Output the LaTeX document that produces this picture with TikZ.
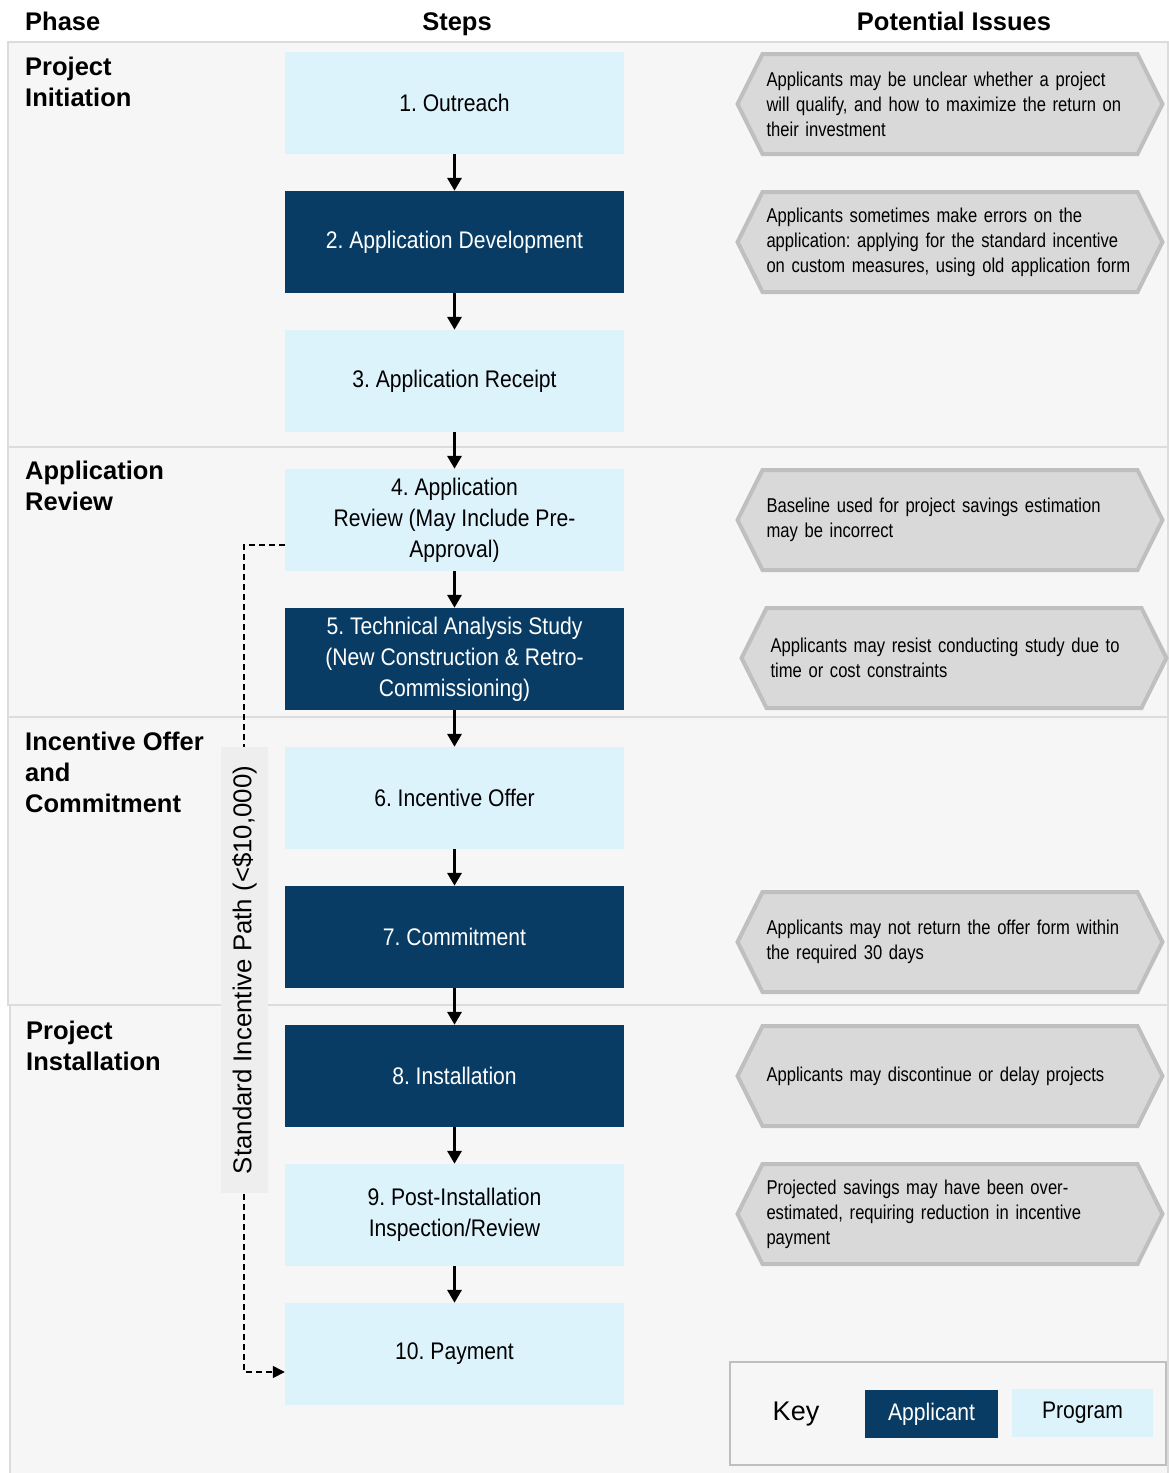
\documentclass[tikz,border=0pt]{standalone}
\usepackage{fontspec}
\setmainfont{Liberation Sans}
\newfontfamily\narrowfont{Liberation Sans}[FakeStretch=0.88]
\newfontfamily\issuefont{Liberation Sans}[FakeStretch=0.83]
\usetikzlibrary{arrows.meta, shapes.symbols}
\frenchspacing

\definecolor{progblue}{RGB}{221,243,252}
\definecolor{appblue}{RGB}{8,60,100}
\definecolor{bandfill}{RGB}{246,246,246}
\definecolor{bandline}{RGB}{220,220,220}
\definecolor{issuefill}{RGB}{217,217,217}
\definecolor{issueline}{RGB}{191,191,191}
\definecolor{pathfill}{RGB}{238,238,238}

\begin{document}
\begin{tikzpicture}
        [x=1pt, y=-1pt,
        stepbox/.style={draw=none, inner sep=0, minimum width=339pt, minimum height=102pt, align=center, font=\narrowfont\fontsize{24}{31}\selectfont},
        prog/.style={stepbox, fill=progblue, text=black},
        app/.style={stepbox, fill=appblue, text=white},
        issue/.style={shape=signal, signal to=west and east, signal pointer angle=127, fill=issuefill, draw=issueline, line width=4pt, text width=367pt, inner xsep=4pt, minimum height=100pt, align=left, font=\issuefont\fontsize{20}{25}\selectfont},
        phase/.style={anchor=north west, align=left, inner sep=0, font=\bfseries\fontsize{25.5}{31}\selectfont},
        head/.style={anchor=base, inner sep=0, font=\bfseries\fontsize{25.5}{28}\selectfont},
        band/.style={fill=bandfill, draw=bandline, line width=1.5pt},
        flow/.style={line width=3.5pt, -{Triangle[width=14pt, length=13pt]}},
        dashpath/.style={line width=1.5pt, dash pattern=on 6pt off 4pt, -{Triangle[width=12pt, length=12pt]}}]

        \useasboundingbox (0,0) rectangle (1169,1473);

        % phase bands
        \path[band] (8,42) rectangle (1168,447);
        \path[band] (8,447) rectangle (1168,717);
        \path[band] (8,717) rectangle (1168,1005);
        \path[band] (10,1005) rectangle (1168,1480);

        \node[head, anchor=base west] (hphase) at (25,30) {Phase};
        \node[head] (hsteps) at (457,30) {Steps};
        \node[head] (hissues) at (954,30) {Potential Issues};

        \node[phase] (p1) at (25,57) {Project\\Initiation};
        \node[phase] (p2) at (25,461) {Application\\Review};
        \node[phase] (p3) at (25,732) {Incentive Offer\\and\\Commitment};
        \node[phase] (p4) at (26,1021) {Project\\Installation};

        % steps
        \node[prog] (s1) at (454.5,103) {1. Outreach};
        \node[app] (s2) at (454.5,242) {2. Application Development};
        \node[prog] (s3) at (454.5,381) {3. Application Receipt};
        \node[prog] (s4) at (454.5,520) {4. Application\\Review (May Include Pre-\\Approval)};
        \node[app] (s5) at (454.5,659) {5. Technical Analysis Study\\(New Construction \& Retro-\\Commissioning)};
        \node[prog] (s6) at (454.5,798) {6. Incentive Offer};
        \node[app] (s7) at (454.5,937) {7. Commitment};
        \node[app] (s8) at (454.5,1076) {8. Installation};
        \node[prog] (s9) at (454.5,1215) {9. Post-Installation\\Inspection/Review};
        \node[prog] (s10) at (454.5,1354) {10. Payment};

        \draw[flow] (s1) -- (s2);
        \draw[flow] (s2) -- (s3);
        \draw[flow] (s3) -- (s4);
        \draw[flow] (s4) -- (s5);
        \draw[flow] (s5) -- (s6);
        \draw[flow] (s6) -- (s7);
        \draw[flow] (s7) -- (s8);
        \draw[flow] (s8) -- (s9);
        \draw[flow] (s9) -- (s10);

        % standard path
        \coordinate (ptop) at (244,545);
        \coordinate (pbot) at (244,1372);
        \draw[dashpath] (s4.west |- ptop) -- (ptop) -- (pbot) -- (s10.west |- pbot);
        \node[fill=pathfill, minimum width=47pt, minimum height=446pt, inner sep=0] (pathbox) at (244.5,970) {};
        \node[rotate=90, font=\fontsize{25.8}{28}\selectfont] (pathlabel) at (pathbox) {Standard Incentive Path (<\$10,000)};

        % issues
        \node[issue] (i1) at (950,104) {Applicants may be unclear whether a project\\will qualify, and how to maximize the return on\\their investment};
        \node[issue] (i2) at (950,242) {Applicants sometimes make errors on the\\application: applying for the standard incentive\\on custom measures, using old application form};
        \node[issue] (i4) at (950,520) {Baseline used for project savings estimation\\may be incorrect};
        \node[issue] (i5) at (954,658) {Applicants may resist conducting study due to\\time or cost constraints};
        \node[issue] (i7) at (950,942) {Applicants may not return the offer form within\\the required 30 days};
        \node[issue] (i8) at (950,1076) {Applicants may discontinue or delay projects};
        \node[issue] (i9) at (950,1214) {Projected savings may have been over-\\estimated, requiring reduction in incentive\\payment};

        % key
        \node[draw=issueline, line width=1.5pt, minimum width=436pt, minimum height=103pt, inner sep=0] (keybox) at (948,1413.5) {};
        \node[font=\fontsize{27}{30}\selectfont] (keylabel) at (796,1414) {Key};
        \node[app, minimum width=133pt, minimum height=48pt, font=\narrowfont\fontsize{24}{30}\selectfont] (keyapp) at (931.5,1414) {Applicant};
        \node[prog, minimum width=141pt, minimum height=48pt, font=\narrowfont\fontsize{24}{30}\selectfont] (keyprog) at (1082.5,1413) {Program};

      \end{tikzpicture}
\end{document}
